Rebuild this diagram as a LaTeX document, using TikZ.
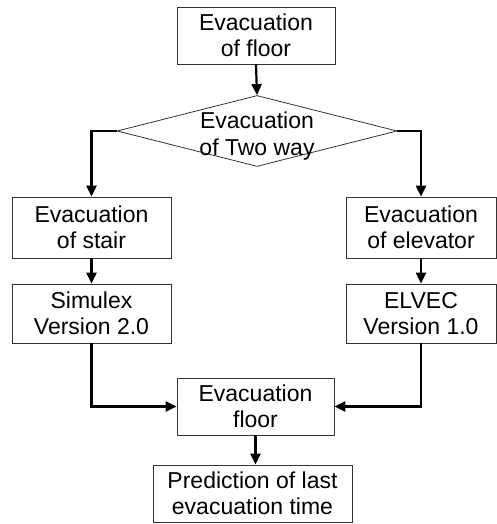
\documentclass[tikz,border=0pt]{standalone}
\usepackage{fontspec}
\setmainfont{Liberation Sans}
\usetikzlibrary{shapes.geometric,arrows.meta}
\begin{document}
\begin{tikzpicture}[x=1pt,y=1pt,
  box/.style={draw=black!80,line width=0.8pt,inner sep=0pt,align=center,
    font=\fontsize{23}{26.5}\selectfont},
  conn/.style={line width=2.2pt,-{Triangle[length=11pt,width=10pt]}}]
\useasboundingbox (0,0) rectangle (497,524);
\node[box,minimum width=158,minimum height=57] (top) at (256,488.5) {Evacuation\\of floor};
\node[draw=black!80,line width=0.8pt,diamond,inner sep=0pt,minimum width=280,minimum height=71] (d) at (257,393) {};
\node[align=center,inner sep=0pt,font=\fontsize{23}{26.5}\selectfont] (dt) at (257,388) {Evacuation\\of Two way};
\node[box,minimum width=159,minimum height=61] (stair) at (91.5,296.5) {Evacuation\\of stair};
\node[box,minimum width=150,minimum height=61] (elev) at (421,296.5) {Evacuation\\of elevator};
\node[box,minimum width=159,minimum height=59] (sim) at (91.5,210.5) {Simulex\\Version 2.0};
\node[box,minimum width=150,minimum height=59] (elvec) at (421,210.5) {ELVEC\\Version 1.0};
\node[box,minimum width=157,minimum height=57] (floor) at (255.5,117.5) {Evacuation\\floor};
\node[box,minimum width=199,minimum height=57] (pred) at (252.5,30.5) {Prediction of last\\evacuation time};
\draw[conn] (top.south) -- (d.north);
\draw[conn] (d.west) -| (stair.north);
\draw[conn] (d.east) -| (elev.north);
\draw[conn] (stair.south) -- (sim.north);
\draw[conn] (elev.south) -- (elvec.north);
\draw[conn] (sim.south) |- (floor.west);
\draw[conn] (elvec.south) |- (floor.east);
\draw[conn] (floor.south) -- (floor.south |- pred.north);
\end{tikzpicture}
\end{document}
